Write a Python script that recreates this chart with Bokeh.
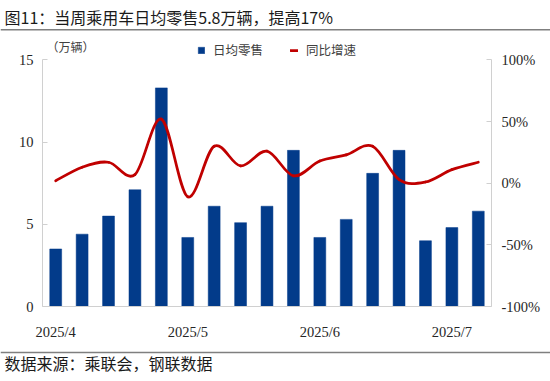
from bokeh.plotting import figure
from bokeh.models import (Range1d, LinearAxis, FixedTicker, PrintfTickFormatter,
                          Label, Legend, LegendItem)
from bokeh.core.properties import value
from bokeh.embed import file_html
from bokeh.resources import INLINE

# ---------------- data ----------------
title_text = "图11：当周乘用车日均零售5.8万辆，提高17%"
source_text = "数据来源：乘联会，钢联数据"
unit_text = "（万辆）"
series_names = ["日均零售", "同比增速"]
# weekly daily-average retail sales (10k units)
sales = [3.5, 4.4, 5.5, 7.1, 13.3, 4.2, 6.1, 5.1, 6.1, 9.5, 4.2, 5.3, 8.1, 9.5, 4.0, 4.8, 5.8]
# year-on-year growth (%)
yoy = [2, 13, 17, 7, 52, -11, 30, 14, 26, 6, 18, 23, 30, 3, 1, 11, 17]
tick_index = [0, 5, 10, 15]
tick_labels = ["2025/4", "2025/5", "2025/6", "2025/7"]
left_ticks = [0, 5, 10, 15]
right_ticks = [-100, -50, 0, 50, 100]

BLUE = "#023B8A"
RED = "#C00000"
CJK = "Noto Sans CJK SC"
SERIF = "Liberation Serif"
TXT = "#262626"
RULE = "#7f7f7f"
W = 550

n = len(sales)
xs = list(range(n))


def strip(height):
    f = figure(width=W, height=height, x_range=Range1d(0, W), y_range=Range1d(0, height),
               x_axis_type=None, y_axis_type=None, toolbar_location=None,
               output_backend="svg", min_border=0, outline_line_color=None)
    f.grid.visible = False
    return f


# ---------------- top strip: title + rule ----------------
TH = 32
top = strip(TH)
top.text(x=[4], y=[TH - 16.7], text=[title_text], text_font=value(CJK),
         text_font_size="16px", text_baseline="middle", text_align="left",
         text_color="#1a1a1a")
top.segment(x0=[0], y0=[TH - 29.3], x1=[W], y1=[TH - 29.3], line_color=RULE, line_width=1.4)

# ---------------- main chart ----------------
# value axes cover 252 px; the frame reaches 26 px higher to hold legend and unit label
Y0, Y1 = 0, 15
P0, P1 = -100, 100
AXIS_PX, HEAD_PX = 252.0, 26.0
px_per_y = AXIS_PX / (Y1 - Y0)
px_per_p = AXIS_PX / (P1 - P0)
px_per_x = 449.0 / n

p = figure(width=W, height=310, x_range=Range1d(-0.5, n - 0.5),
           y_range=Range1d(Y0, Y1 + HEAD_PX / px_per_y),
           toolbar_location=None, output_backend="svg",
           min_border_left=42, min_border_right=59, min_border_top=2, min_border_bottom=30,
           outline_line_color=None)
p.extra_y_ranges = {"pct": Range1d(P0, P1 + HEAD_PX / px_per_p)}
p.grid.visible = False

bars = p.vbar(x=xs, top=sales, width=0.45, fill_color=BLUE, line_color=BLUE, line_width=0.5)

# smoothed line (Excel-style cubic Bezier through the data points)
x0s, y0s, x1s, y1s, cx0s, cy0s, cx1s, cy1s = [], [], [], [], [], [], [], []
for i in range(n - 1):
    a = i - 1 if i > 0 else i
    b = i + 2 if i + 2 < n else i + 1
    x0s.append(xs[i]); y0s.append(yoy[i])
    x1s.append(xs[i + 1]); y1s.append(yoy[i + 1])
    cx0s.append(xs[i] + (xs[i + 1] - xs[a]) / 6.0)
    cy0s.append(yoy[i] + (yoy[i + 1] - yoy[a]) / 6.0)
    cx1s.append(xs[i + 1] - (xs[b] - xs[i]) / 6.0)
    cy1s.append(yoy[i + 1] - (yoy[b] - yoy[i]) / 6.0)
curve = p.bezier(x0=x0s, y0=y0s, x1=x1s, y1=y1s, cx0=cx0s, cy0=cy0s, cx1=cx1s, cy1=cy1s,
                 line_color=RED, line_width=2.75, line_cap="round", y_range_name="pct")

legend = Legend(items=[LegendItem(label=series_names[0], renderers=[bars], index=0),
                       LegendItem(label=series_names[1], renderers=[curve], index=0)],
                orientation="horizontal", location=(155, 247), padding=0, margin=0,
                spacing=27, label_standoff=8, glyph_width=8, glyph_height=8,
                label_text_font=CJK, label_text_font_size="12.5px",
                label_text_color="#404040", border_line_color=None,
                background_fill_alpha=0)
p.add_layout(legend)

# unit label above the left axis
p.add_layout(Label(x=-0.5 + 4 / px_per_x, y=Y1 + 14 / px_per_y, text=unit_text,
                   text_font=CJK, text_font_size="12px", text_color="#404040",
                   text_baseline="middle", text_align="left"))

# axes
ax_col = "#d0d0d0"
xa = p.xaxis[0]
xa.ticker = FixedTicker(ticks=tick_index)
xa.major_label_overrides = {i: l for i, l in zip(tick_index, tick_labels)}
xa.major_tick_line_color = None
xa.minor_tick_line_color = None
xa.axis_line_color = ax_col
xa.major_label_standoff = 11
xa.major_label_text_font = SERIF
xa.major_label_text_font_size = "14.5px"
xa.major_label_text_color = TXT

ya = p.yaxis[0]
ya.ticker = FixedTicker(ticks=left_ticks)
ya.bounds = (Y0, Y1)
ya.axis_line_color = ax_col
ya.major_tick_line_color = ax_col
ya.major_tick_in = 5
ya.major_tick_out = 0
ya.minor_tick_line_color = None
ya.major_label_standoff = 9
ya.major_label_text_font = SERIF
ya.major_label_text_font_size = "14.5px"
ya.major_label_text_color = TXT

ra = LinearAxis(y_range_name="pct", ticker=FixedTicker(ticks=right_ticks),
                formatter=PrintfTickFormatter(format="%d%%"), bounds=(P0, P1))
ra.axis_line_color = ax_col
ra.major_tick_line_color = ax_col
ra.major_tick_in = 5
ra.major_tick_out = 0
ra.minor_tick_line_color = None
ra.major_label_standoff = 10
ra.major_label_text_font = SERIF
ra.major_label_text_font_size = "14.5px"
ra.major_label_text_color = TXT
p.add_layout(ra, "right")

# ---------------- bottom strip: rule + source ----------------
BH = 39
bot = strip(BH)
bot.segment(x0=[0], y0=[BH - 10], x1=[W], y1=[BH - 10], line_color=RULE, line_width=1.4)
bot.text(x=[4], y=[BH - 20.5], text=[source_text], text_font=value(CJK),
         text_font_size="16px", text_baseline="middle", text_align="left",
         text_color="#1a1a1a")

open("out.html", "w").write(file_html([top, p, bot], INLINE))
